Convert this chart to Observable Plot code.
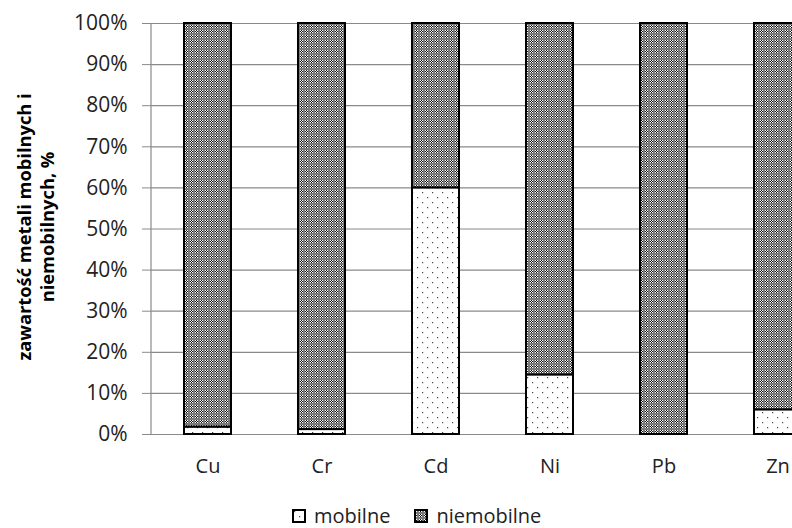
<!DOCTYPE html>
<html><head><meta charset="utf-8">
<script src="https://cdn.jsdelivr.net/npm/d3@7"></script>
<script src="https://cdn.jsdelivr.net/npm/@observablehq/plot@0.6"></script>
<style>
body{margin:0;background:#fff;font-family:"Open Sans",sans-serif;}
#chart{position:relative;width:792px;height:528px;overflow:hidden;background:#fff;}
#legend{position:absolute;left:292px;top:506px;display:flex;align-items:center;font-size:20px;color:#222;line-height:20px;white-space:nowrap;}
#legend .item{display:flex;align-items:center;margin-right:24px;}
#legend svg{margin-right:8px;}
</style></head><body><div id="chart"></div>
<script>
const metals = ["Cu", "Cr", "Cd", "Ni", "Pb", "Zn"];
const mobilne = [1.8, 1.2, 60, 14.5, 0, 6];
const niemobilne = [98.2, 98.8, 40, 85.5, 100, 94];
const seriesNames = ["mobilne", "niemobilne"];
const yTicks = [0, 10, 20, 30, 40, 50, 60, 70, 80, 90, 100];
const yTitle = "zawartość metali mobilnych i\nniemobilnych, %";

const rows = [];
metals.forEach((m, i) => {
  rows.push({metal: m, type: seriesNames[0], value: mobilne[i]});
  rows.push({metal: m, type: seriesNames[1], value: niemobilne[i]});
});

const svg = Plot.plot({
  width: 792,
  height: 495,
  marginTop: 23,
  marginBottom: 61,
  marginLeft: 151,
  marginRight: 0,
  style: {fontFamily: "'Open Sans', sans-serif", fontSize: "21px", color: "#222", background: "#fff"},
  x: {domain: metals, range: [149.4, 834.6], paddingInner: 0.59, paddingOuter: 0.295, label: null},
  y: {domain: [0, 100], label: null},
  color: {domain: seriesNames, range: ["url(#pat-dots)", "url(#pat-checker)"]},
  marks: [
    Plot.gridY(yTicks, {stroke: "#8a8a8a", strokeOpacity: 1, strokeWidth: 1.2}),
    Plot.axisY(yTicks, {tickSize: 9, tickPadding: 15, stroke: "#8a8a8a", fill: "#222", tickFormat: d => d + "%", label: null}),
    Plot.axisX({tickSize: 0, tickPadding: 24, fill: "#222", fontSize: 20, label: null}),
    Plot.barY(rows.filter(d => d.value > 0), {x: "metal", y: "value", fill: "type", stroke: "#000", strokeWidth: 2}),
    Plot.text([yTitle], {frameAnchor: "left", textAnchor: "middle", dx: -116, dy: -2, rotate: -90, fontWeight: "bold", fontSize: 18.3, lineHeight: 1.25, fill: "#000"})
  ]
});

const s = d3.select(svg);
s.insert("defs", ":first-child").html(`
  <pattern id="pat-checker" width="5" height="5" patternUnits="userSpaceOnUse">
    <rect width="5" height="5" fill="#7a7a7a"/>
    <rect x="0" y="0" width="1" height="1" fill="#fff"/>
    <rect x="2" y="0" width="1" height="1" fill="#fff"/>
    <rect x="1" y="1" width="1" height="1" fill="#fff"/>
    <rect x="0" y="2" width="1" height="1" fill="#fff"/>
    <rect x="2" y="2" width="1" height="1" fill="#fff"/>
    <rect x="1" y="0" width="1" height="1" fill="#111"/>
    <rect x="0" y="1" width="1" height="1" fill="#111"/>
    <rect x="2" y="1" width="1" height="1" fill="#111"/>
    <rect x="1" y="2" width="1" height="1" fill="#111"/>
  </pattern>
  <pattern id="pat-dots" width="10" height="10" patternUnits="userSpaceOnUse">
    <rect width="10" height="10" fill="#fff"/>
    <rect x="2" y="2" width="1.2" height="1.2" fill="#444"/>
    <rect x="7" y="7" width="1.2" height="1.2" fill="#444"/>
  </pattern>`);
// vertical value axis line
s.append("line").attr("x1", 151).attr("x2", 151).attr("y1", 23).attr("y2", 434)
  .attr("stroke", "#8a8a8a").attr("stroke-width", 1.2);

const chart = document.getElementById("chart");
chart.appendChild(svg);

const legend = document.createElement("div");
legend.id = "legend";
seriesNames.forEach((name, i) => {
  const item = document.createElement("div");
  item.className = "item";
  item.innerHTML = `<svg width="14" height="14"><rect x="1" y="1" width="12" height="12" fill="${i === 0 ? "url(#pat-dots)" : "url(#pat-checker)"}" stroke="#000" stroke-width="2"/></svg><span>${name}</span>`;
  legend.appendChild(item);
});
chart.appendChild(legend);
</script>
</body></html>
